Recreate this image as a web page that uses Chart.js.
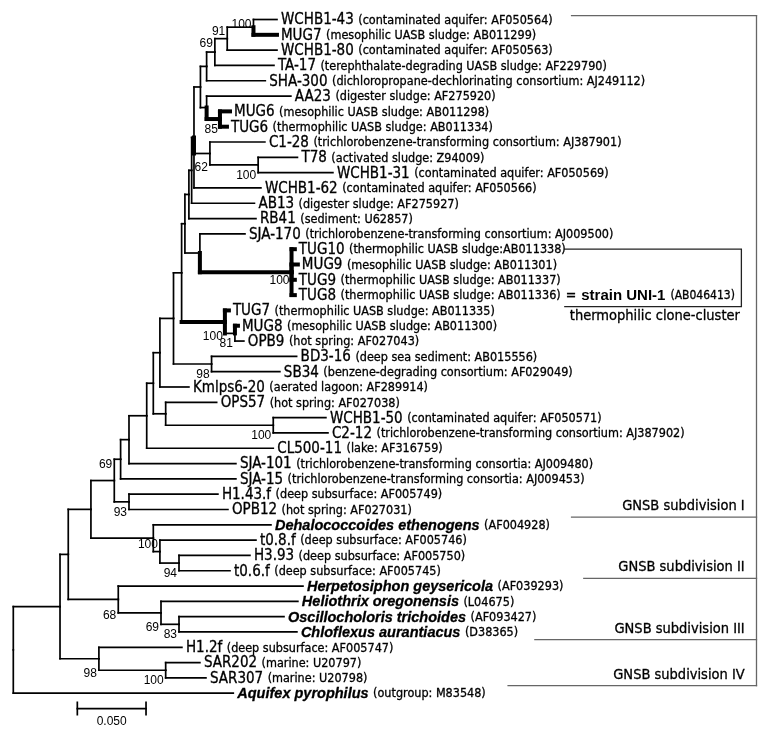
<!DOCTYPE html>
<html>
<head>
<meta charset="utf-8">
<script src="https://cdn.jsdelivr.net/npm/chart.js@4/dist/chart.umd.min.js"></script>
<style>
  html, body { margin: 0; background: #fff; }
  #wrap { width: 769px; height: 737px; }
</style>
</head>
<body>
<div id="wrap"><canvas id="tree"></canvas></div>
<script>
// leaves, top to bottom (row = index)
const leafNames = ['WCHB1-43','MUG7','WCHB1-80','TA-17','SHA-300','AA23','MUG6','TUG6','C1-28','T78',
  'WCHB1-31','WCHB1-62','AB13','RB41','SJA-170','TUG10','MUG9','TUG9','TUG8','TUG7',
  'MUG8','OPB9','BD3-16','SB34','Kmlps6-20','OPS57','WCHB1-50','C2-12','CL500-11','SJA-101',
  'SJA-15','H1.43.f','OPB12','Dehalococcoides ethenogens','t0.8.f','H3.93','t0.6.f',
  'Herpetosiphon geysericola','Heliothrix oregonensis','Oscillocholoris trichoides','Chloflexus aurantiacus',
  'H1.2f','SAR202','SAR307','Aquifex pyrophilus'];
const leafNotes = ['(contaminated aquifer: AF050564)','(mesophilic UASB sludge: AB011299)','(contaminated aquifer: AF050563)',
  '(terephthalate-degrading UASB sludge: AF229790)','(dichloropropane-dechlorinating consortium: AJ249112)',
  '(digester sludge: AF275920)','(mesophilic UASB sludge: AB011298)','(thermophilic UASB sludge: AB011334)',
  '(trichlorobenzene-transforming consortium: AJ387901)','(activated sludge: Z94009)','(contaminated aquifer: AF050569)',
  '(contaminated aquifer: AF050566)','(digester sludge: AF275927)','(sediment: U62857)',
  '(trichlorobenzene-transforming consortium: AJ009500)','(thermophilic UASB sludge:AB011338)',
  '(mesophilic UASB sludge: AB011301)','(thermophilic UASB sludge: AB011337)','(thermophilic UASB sludge: AB011336)',
  '(thermophilic UASB sludge: AB011335)','(mesophilic UASB sludge: AB011300)','(hot spring: AF027043)',
  '(deep sea sediment: AB015556)','(benzene-degrading consortium: AF029049)','(aerated lagoon: AF289914)',
  '(hot spring: AF027038)','(contaminated aquifer: AF050571)','(trichlorobenzene-transforming consortium: AJ387902)',
  '(lake: AF316759)','(trichlorobenzene-transforming consortia: AJ009480)','(trichlorobenzene-transforming consortia: AJ009453)',
  '(deep subsurface: AF005749)','(hot spring: AF027031)','(AF004928)','(deep subsurface: AF005746)',
  '(deep subsurface: AF005750)','(deep subsurface: AF005745)','(AF039293)','(L04675)','(AF093427)','(D38365)',
  '(deep subsurface: AF005747)','(marine: U20797)','(marine: U20798)','(outgroup: M83548)'];
const leafDepths = [0.1919,0.1919,0.1919,0.1897,0.1834,0.2020,0.1577,0.1555,0.1831,0.2068,
  0.2326,0.1802,0.1755,0.1766,0.1686,0.2049,0.2071,0.2049,0.2049,0.1569,
  0.1635,0.1678,0.2062,0.1940,0.1278,0.1480,0.2275,0.2290,0.1892,0.1620,
  0.1620,0.1489,0.1562,0.1875,0.1766,0.1722,0.1577,0.2108,0.2071,0.1970,0.2064,
  0.1227,0.1358,0.1402,0.1601];
const speciesNames = ['Dehalococcoides ethenogens','Herpetosiphon geysericola','Heliothrix oregonensis',
  'Oscillocholoris trichoides','Chloflexus aurantiacus','Aquifex pyrophilus'];

// internal nodes
const nodeNames  = ['root','nBB','nAA','nZ','nY','nX','nW','nV','nU','nR','nQ','nM','nL','nI','nH','nG','nF',
  'nA','n69','n91','n100a','nB','nC','nE','nD','nK','nJ','nN','nO','nP','nT','nS','nH1','nS2a','nS2b','nS2c',
  'n3a','n3b','n3c','n4a','n4b'];
const nodeDepths = [0,0.0340,0.0400,0.0565,0.0735,0.0781,0.0842,0.0971,0.1019,0.1067,0.1166,0.1225,0.1249,0.1278,0.1298,0.1315,0.1362,
  0.1407,0.1467,0.1557,0.1748,0.1407,0.1504,0.1431,0.1782,0.1358,0.2025,0.1540,0.1613,0.1443,0.1109,0.1892,0.0842,0.1019,0.1067,0.1206,
  0.0764,0.1075,0.1206,0.0623,0.1109];
const nodeKids = [
  ['nBB','Aquifex pyrophilus'], ['nAA','n4a'], ['nZ','n3a'], ['nY','nS2a'], ['nX','nH1'],
  ['nW','SJA-15'], ['nV','SJA-101'], ['nU','CL500-11'], ['nR','nT'], ['nQ','Kmlps6-20'],
  ['nM','nP'], ['nL','nN'], ['nI','nK'], ['nH','RB41'], ['nG','AB13'], ['nF','nE','WCHB1-62'], ['nA','nB'],
  ['n69','SHA-300'], ['n91','TA-17'], ['n100a','WCHB1-80'], ['WCHB1-43','MUG7'], ['AA23','nC'], ['MUG6','TUG6'],
  ['C1-28','nD'], ['T78','WCHB1-31'], ['SJA-170','nJ'], ['TUG10','MUG9','TUG9','TUG8'], ['TUG7','nO'], ['MUG8','OPB9'],
  ['BD3-16','SB34'], ['OPS57','nS'], ['WCHB1-50','C2-12'], ['H1.43.f','OPB12'],
  ['Dehalococcoides ethenogens','nS2b'], ['t0.8.f','nS2c'], ['H3.93','t0.6.f'],
  ['Herpetosiphon geysericola','n3b'], ['Heliothrix oregonensis','n3c'], ['Oscillocholoris trichoides','Chloflexus aurantiacus'],
  ['H1.2f','n4b'], ['SAR202','SAR307']];
const bootValues = [null,null,null,null,69,null,null,null,null,null,null,null,null,null,null,null,null,
  null,69,91,100,null,85,62,100,null,100,100,81,98,null,100,93,null,100,94,68,69,83,98,100];
const bootPlaces = ['b','b','b','b','t','b','b','b','b','b','b','b','b','b','b','b','b',
  'b','t','t','t','b','b','b','b','b','m','b','b','b','b','b','b','b','t','b','b','b','b','b','b'];

// heavy branches (UASB clones)
const thickBoth = ['MUG7','nC','MUG6','TUG6','nJ','TUG10','MUG9','TUG9','TUG8','TUG7','MUG8'];
const thickVert = ['nE','nO'];
const thickHorz = ['nN'];

// right-hand brackets
const groupNames  = ['GNSB subdivision I','GNSB subdivision II','GNSB subdivision III','GNSB subdivision IV'];
const groupEdges  = [-0.25, 32.5, 36.5, 40.5, 43.5];
const groupStarts = [0.4063, 0.4063, 0.4152, 0.3796, 0.3601];
const groupRight  = 0.5409;
const groupTextX  = 0.5323;

const clusterRows  = [15, 18.75];
const clusterStart = 0.4014;
const clusterRight = 0.5299;
const clusterLabel = 'thermophilic clone-cluster';
const strainLeaf = 'TUG8', strainName = 'strain UNI-1', strainAcc = '(AB046413)';

const scaleFrom = 0.0466, scaleLength = 0.05, scaleRow = 45, scaleLabel = '0.050';

// layout of the tree
const rowOf = {}, depthOf = {}, kidsOf = {};
leafNames.forEach((n, i) => { rowOf[n] = i; depthOf[n] = leafDepths[i]; });
nodeNames.forEach((n, i) => { depthOf[n] = nodeDepths[i]; kidsOf[n] = nodeKids[i]; });
function rowFor(n) {
  if (n in rowOf) return rowOf[n];
  const k = kidsOf[n];
  rowOf[n] = (rowFor(k[0]) + rowFor(k[k.length - 1])) / 2;
  return rowOf[n];
}
nodeNames.forEach(rowFor);

const THIN = 1.7, THICK = 4;
function seg(points, width, color) {
  return { data: points, showLine: true, borderColor: color || '#000', borderWidth: width,
    pointRadius: 0, clip: false, fill: false, borderCapStyle: 'square', borderJoinStyle: 'miter' };
}

const datasets = [];
nodeNames.forEach(p => {
  kidsOf[p].forEach(c => {
    const vW = (thickBoth.includes(c) || thickVert.includes(c)) ? THICK : THIN;
    const hW = (thickBoth.includes(c) || thickHorz.includes(c)) ? THICK : THIN;
    datasets.push(seg([{ x: depthOf[p], y: rowOf[p] }, { x: depthOf[p], y: rowOf[c] }], vW));
    datasets.push(seg([{ x: depthOf[p], y: rowOf[c] }, { x: depthOf[c], y: rowOf[c] }], hW));
  });
});

// brackets
groupEdges.forEach((r, i) => {
  datasets.push(seg([{ x: groupStarts[i], y: r }, { x: groupRight, y: r }], 1.3, '#666'));
});
datasets.push(seg([{ x: groupRight, y: groupEdges[0] }, { x: groupRight, y: groupEdges[groupEdges.length - 1] }], 1.3, '#666'));
datasets.push(seg([{ x: clusterStart, y: clusterRows[0] }, { x: clusterRight, y: clusterRows[0] },
  { x: clusterRight, y: clusterRows[1] }, { x: clusterStart, y: clusterRows[1] }], 1.3, '#222'));

// scale bar
datasets.push(seg([{ x: scaleFrom, y: scaleRow }, { x: scaleFrom + scaleLength, y: scaleRow }], 1.7));
datasets.push(seg([{ x: scaleFrom, y: scaleRow - 0.4 }, { x: scaleFrom, y: scaleRow + 0.4 }], 1.7));
datasets.push(seg([{ x: scaleFrom + scaleLength, y: scaleRow - 0.4 }, { x: scaleFrom + scaleLength, y: scaleRow + 0.4 }], 1.7));

const FONT = '"DejaVu Sans Condensed", "Liberation Sans", Arial, sans-serif';
const NUMFONT = '"Liberation Sans", Arial, sans-serif';

function ink(ctx, text, px, py) {
  ctx.fillText(text, px, py);
  ctx.strokeText(text, px, py);
}

const treeText = {
  id: 'treeText',
  afterDatasetsDraw(chart) {
    const { ctx, scales: { x, y } } = chart;
    ctx.save();
    ctx.fillStyle = '#000';
    ctx.strokeStyle = '#000';
    ctx.lineWidth = 0.3;
    ctx.textBaseline = 'middle';
    ctx.textAlign = 'left';

    leafNames.forEach((name, i) => {
      let px = x.getPixelForValue(leafDepths[i]) + 4;
      const py = y.getPixelForValue(i) + 1;
      ctx.font = speciesNames.includes(name) ? 'italic bold 14.5px ' + NUMFONT : '15px ' + FONT;
      ink(ctx, name, px, py);
      px += ctx.measureText(name).width + 4.5;
      ctx.font = '12.5px ' + FONT;
      ink(ctx, leafNotes[i], px, py);
      if (name === strainLeaf) {
        px += ctx.measureText(leafNotes[i]).width + 5;
        ctx.font = '14px ' + FONT;
        ink(ctx, '=', px, py);
        px += ctx.measureText('=').width + 5;
        ctx.font = 'bold 15px ' + NUMFONT;
        ctx.fillText(strainName, px, py);
        px += ctx.measureText(strainName).width + 5;
        ctx.font = '12px ' + FONT;
        ink(ctx, strainAcc, px, py);
      }
    });

    // bootstrap values
    ctx.font = '12px ' + NUMFONT;
    ctx.textAlign = 'right';
    nodeNames.forEach((n, i) => {
      if (bootValues[i] == null) return;
      const k = kidsOf[n];
      const top = y.getPixelForValue(rowOf[k[0]]);
      const bot = y.getPixelForValue(rowOf[k[k.length - 1]]);
      let py = bot + 3;
      if (bootPlaces[i] === 't') py = top + 5;
      if (bootPlaces[i] === 'm') py = (top + bot) / 2 + 9;
      ctx.fillText(String(bootValues[i]), x.getPixelForValue(depthOf[n]) - 2, py);
    });

    // group labels
    ctx.font = '14.5px ' + FONT;
    groupNames.forEach((g, i) => {
      ink(ctx, g, x.getPixelForValue(groupTextX), y.getPixelForValue(groupEdges[i + 1] - 0.7));
    });

    ctx.textAlign = 'left';
    ctx.font = '14.5px ' + FONT;
    ink(ctx, clusterLabel, x.getPixelForValue(clusterStart) + 5, y.getPixelForValue(clusterRows[1] + 0.66));

    ctx.textAlign = 'center';
    ctx.font = '12px ' + NUMFONT;
    ctx.fillText(scaleLabel, x.getPixelForValue(scaleFrom + scaleLength / 2), y.getPixelForValue(scaleRow + 0.87));
    ctx.restore();
  }
};

new Chart(document.getElementById('tree'), {
  type: 'scatter',
  data: { datasets },
  options: {
    responsive: true,
    maintainAspectRatio: false,
    animation: false,
    layout: { padding: { left: 13.3, right: 0, top: 4.2, bottom: 5.5 } },
    scales: {
      x: { type: 'linear', min: 0, max: 0.55, display: false },
      y: { type: 'linear', min: -1, max: 46.5, reverse: true, display: false }
    },
    plugins: { legend: { display: false }, tooltip: { enabled: false } },
    elements: { point: { radius: 0 }, line: { tension: 0 } }
  },
  plugins: [treeText]
});
</script>
</body>
</html>
